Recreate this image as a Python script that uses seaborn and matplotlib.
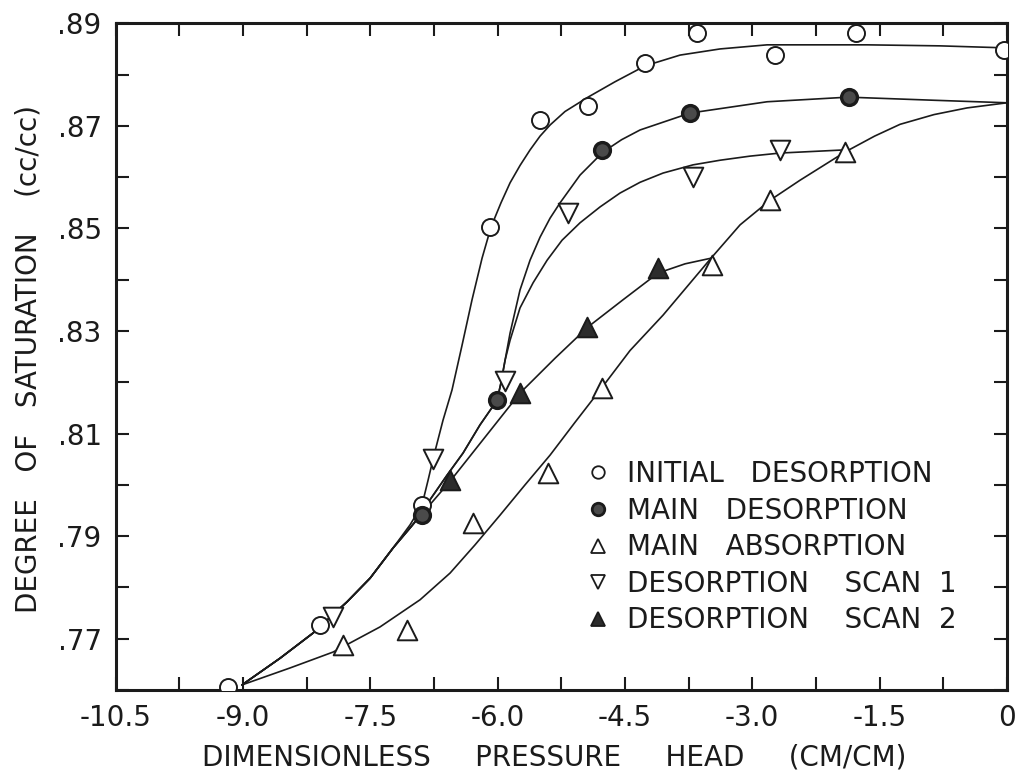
import numpy as np
import pandas as pd
import matplotlib
matplotlib.use("Agg")
import matplotlib.pyplot as plt
import seaborn as sns
from matplotlib.lines import Line2D
from matplotlib.ticker import FixedLocator, MultipleLocator

# ---- measured points: pressure head (cm/cm) vs degree of saturation ----
initial_des_h = [-9.17, -8.09, -6.89, -6.09, -5.50, -4.93, -4.26, -3.65, -2.73, -1.78, -0.04]
initial_des_s = [.7606, .7727, .7961, .8503, .8711, .8739, .8823, .8881, .8838, .8881, .8848]

main_des_h = [-6.89, -6.01, -4.77, -3.73, -1.86]
main_des_s = [.7941, .8165, .8653, .8725, .8756]

main_abs_h = [-7.82, -7.07, -6.29, -5.41, -4.77, -3.47, -2.79, -1.91]
main_abs_s = [.7688, .7717, .7926, .8023, .8189, .8428, .8555, .8649]

scan1_h = [-7.94, -6.76, -5.91, -5.17, -3.70, -2.67]
scan1_s = [.7743, .8051, .8202, .8531, .8600, .8653]

scan2_h = [-6.56, -5.74, -4.95, -4.11]
scan2_s = [.8009, .8179, .8308, .8422]

# ---- hand-fitted curves (vertices along each drawn line) ----
# common lower trunk of the desorption curves
trunk_h = [-9.010, -8.562, -8.174, -7.773, -7.502, -7.231]
trunk_s = [.7610, .7662, .7711, .7772, .7818, .7877]

# initial desorption beyond the trunk
init_tail_h = [-7.031, -6.890, -6.819, -6.749, -6.643, -6.537, -6.419, -6.301, -6.183,
               -6.077, -5.960, -5.853, -5.735, -5.618, -5.500, -5.380, -5.206, -4.935,
               -4.617, -4.263, -3.851, -3.380, -2.826, -1.648, -0.789, 0.0]
init_tail_s = [.7922, .7961, .8009, .8058, .8126, .8185, .8272, .8361, .8442,
               .8503, .8550, .8589, .8623, .8653, .8680, .8702, .8728, .8756,
               .8786, .8817, .8838, .8850, .8858, .8858, .8856, .8852]

# section shared by main desorption and scan 1
des_mid_h = [-7.031, -6.890, -6.796, -6.595, -6.407, -6.207, -6.006, -5.959, -5.912]
des_mid_s = [.7916, .7945, .7971, .8019, .8062, .8117, .8165, .8200, .8243]

main_des_tail_h = [-5.853, -5.736, -5.618, -5.500, -5.382, -5.264, -5.029, -4.758, -4.540,
                   -4.322, -3.733, -2.826, -1.872, -0.871, 0.0]
main_des_tail_s = [.8296, .8380, .8438, .8483, .8520, .8550, .8604, .8649, .8673,
                   .8692, .8725, .8747, .8756, .8750, .8745]

scan1_tail_h = [-5.853, -5.736, -5.582, -5.417, -5.241, -5.029, -4.793, -4.558, -4.322,
                -4.051, -3.698, -3.380, -3.027, -2.673, -1.931]
scan1_tail_s = [.8282, .8345, .8394, .8438, .8477, .8511, .8542, .8569, .8590,
                .8608, .8624, .8633, .8641, .8647, .8653]

scan2_tail_h = [-6.913, -6.560, -6.148, -5.736, -5.323, -4.935, -4.522, -4.110, -3.792, -3.486]
scan2_tail_s = [.7939, .8007, .8093, .8179, .8247, .8308, .8361, .8413, .8431, .8442]

main_abs_line_h = [-9.010, -8.445, -7.938, -7.385, -6.913, -6.560, -6.266, -5.971, -5.677,
                   -5.382, -5.088, -4.770, -4.440, -4.051, -3.486, -3.144, -2.791, -2.438,
                   -1.908, -1.560, -1.260, -0.860, -0.471, 0.0]
main_abs_line_s = [.7610, .7643, .7674, .7723, .7776, .7828, .7883, .7941, .8000,
                   .8058, .8122, .8190, .8262, .8331, .8442, .8507, .8555, .8594,
                   .8649, .8680, .8703, .8722, .8735, .8745]

# ---- axis ticks ----
x_major = [-10.5, -9.0, -7.5, -6.0, -4.5, -3.0, -1.5, 0.0]
x_labels = ["-10.5", "-9.0", "-7.5", "-6.0", "-4.5", "-3.0", "-1.5", "0"]
y_major = [.77, .79, .81, .83, .85, .87, .89]
y_labels = [".77", ".79", ".81", ".83", ".85", ".87", ".89"]

legend_labels = ["INITIAL   DESORPTION", "MAIN   DESORPTION", "MAIN   ABSORPTION",
                 "DESORPTION    SCAN  1", "DESORPTION    SCAN  2"]

sns.set_style("ticks")
plt.rcParams["font.family"] = ["DejaVu Sans"]
ink = "#1b1b1b"
fs = 20

fig = plt.figure(figsize=(10.26, 7.74), dpi=100)
ax = fig.add_axes([0.1126, 0.1085, 0.8689, 0.8614])


def curve(h, s):
    df = pd.DataFrame({"h": h, "s": s})
    sns.lineplot(data=df, x="h", y="s", sort=False, estimator=None,
                 color=ink, lw=1.2, ax=ax, zorder=2)


curve(trunk_h + init_tail_h, trunk_s + init_tail_s)
curve(trunk_h + des_mid_h + main_des_tail_h, trunk_s + des_mid_s + main_des_tail_s)
curve(trunk_h + des_mid_h + scan1_tail_h, trunk_s + des_mid_s + scan1_tail_s)
curve(trunk_h + scan2_tail_h, trunk_s + scan2_tail_s)
curve(main_abs_line_h, main_abs_line_s)

styles = [
    (initial_des_h, initial_des_s, "o", "white", 150, 1.4),
    (main_des_h, main_des_s, "o", "#4a4a4a", 130, 2.4),
    (main_abs_h, main_abs_s, "^", "white", 200, 1.4),
    (scan1_h, scan1_s, "v", "white", 200, 1.4),
    (scan2_h, scan2_s, "^", "#2c2c2c", 200, 1.4),
]
for h, s, mk, fc, size, lw in styles:
    sns.scatterplot(x=h, y=s, marker=mk, s=size, facecolor=fc, edgecolor=ink,
                    linewidth=lw, zorder=3, legend=False, ax=ax)

ax.set_xlim(-10.5, 0)
ax.set_ylim(.76, .89)
ax.xaxis.set_major_locator(FixedLocator(x_major))
ax.set_xticklabels(x_labels)
ax.xaxis.set_minor_locator(MultipleLocator(0.75))
ax.yaxis.set_major_locator(FixedLocator(y_major))
ax.set_yticklabels(y_labels)
ax.yaxis.set_minor_locator(MultipleLocator(0.01))

ax.tick_params(which="both", direction="in", length=9.5, width=1.5, color=ink,
               top=True, right=True)
ax.tick_params(which="major", labelsize=fs, labelcolor=ink, pad=10)
for sp in ax.spines.values():
    sp.set_linewidth(2.2)
    sp.set_color(ink)
    sp.set_visible(True)

ax.set_xlabel("DIMENSIONLESS     PRESSURE     HEAD     (CM/CM)", fontsize=fs, color=ink)
ax.set_ylabel("DEGREE   OF   SATURATION    (cc/cc)", fontsize=fs, color=ink)
ax.xaxis.set_label_coords(0.492, -0.080)
ax.yaxis.set_label_coords(-0.082, 0.497)

handles = [
    Line2D([], [], ls="none", marker="o", ms=9, mfc="white", mec=ink, mew=1.3),
    Line2D([], [], ls="none", marker="o", ms=9, mfc="#4a4a4a", mec=ink, mew=2.0),
    Line2D([], [], ls="none", marker="^", ms=10, mfc="white", mec=ink, mew=1.3),
    Line2D([], [], ls="none", marker="v", ms=10, mfc="white", mec=ink, mew=1.3),
    Line2D([], [], ls="none", marker="^", ms=10, mfc="#2c2c2c", mec=ink, mew=1.3),
]
leg = ax.legend(handles, legend_labels, loc="upper left", bbox_to_anchor=(0.5255, 0.345),
                frameon=False, fontsize=fs, handlelength=1.0, handletextpad=0.55,
                labelspacing=0.31, borderpad=0, borderaxespad=0)
for t in leg.get_texts():
    t.set_color(ink)

fig.savefig("out.png", dpi=100, facecolor="white")
